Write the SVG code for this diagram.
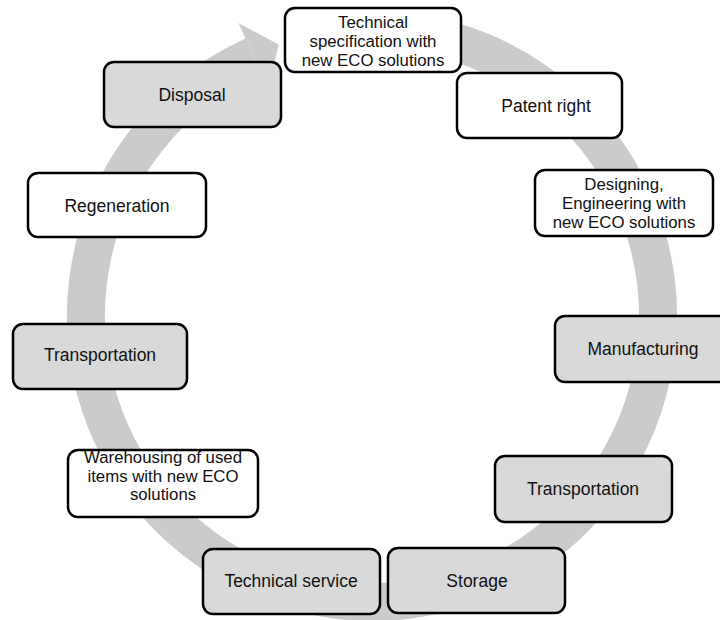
<svg xmlns="http://www.w3.org/2000/svg" width="720" height="620" viewBox="0 0 720 620">
<style>
.box{stroke:#000;stroke-width:2.5;rx:10;ry:10}
.w{fill:#fff}
.g{fill:#d9d9d9}
text{font-family:"Liberation Sans",Arial,sans-serif;font-size:17.5px;fill:#111;text-anchor:middle}
text.m{font-size:16.8px}
.ring{fill:none;stroke:#cbcbcb;stroke-width:38}
</style>
<rect width="720" height="620" fill="#fff"/>
<g id="connectors">
<path class="ring" d="M 298 39.7 A 286 286 0 1 1 253.4 55.7"/>
<polygon points="238.5,23 278.6,44.6 268.3,88.5" fill="#cbcbcb"/>
</g>
<g id="n-techspec"><rect class="box w" x="285" y="8" width="176" height="64"/><text class="m" x="373" y="28">Technical</text><text class="m" x="373" y="47">specification with</text><text class="m" x="373" y="66">new ECO solutions</text></g>
<g id="n-patent"><rect class="box w" x="457" y="73" width="165" height="65"/><text x="546" y="111.5">Patent right</text></g>
<g id="n-design"><rect class="box w" x="535" y="170" width="178" height="66"/><text class="m" x="624" y="189.5">Designing,</text><text class="m" x="624" y="208.5">Engineering with</text><text class="m" x="624" y="227.5">new ECO solutions</text></g>
<g id="n-manuf"><rect class="box g" x="555" y="316" width="180" height="66"/><text x="643" y="355">Manufacturing</text></g>
<g id="n-transport-r"><rect class="box g" x="495" y="456" width="177" height="66"/><text x="583" y="495">Transportation</text></g>
<g id="n-storage"><rect class="box g" x="388" y="548" width="177" height="65"/><text x="477" y="587">Storage</text></g>
<g id="n-techservice"><rect class="box g" x="203" y="549" width="177" height="65"/><text x="291" y="587">Technical service</text></g>
<g id="n-warehouse"><rect class="box w" x="68" y="450" width="190" height="67"/><text class="m" x="163" y="463">Warehousing of used</text><text class="m" x="163" y="481.5">items with new ECO</text><text class="m" x="163" y="500">solutions</text></g>
<g id="n-transport-l"><rect class="box g" x="13" y="324" width="174" height="65"/><text x="100" y="361">Transportation</text></g>
<g id="n-regen"><rect class="box w" x="28" y="173" width="178" height="64"/><text x="117" y="212">Regeneration</text></g>
<g id="n-disposal"><rect class="box g" x="104" y="62" width="177" height="65"/><text x="192" y="101">Disposal</text></g>
</svg>
